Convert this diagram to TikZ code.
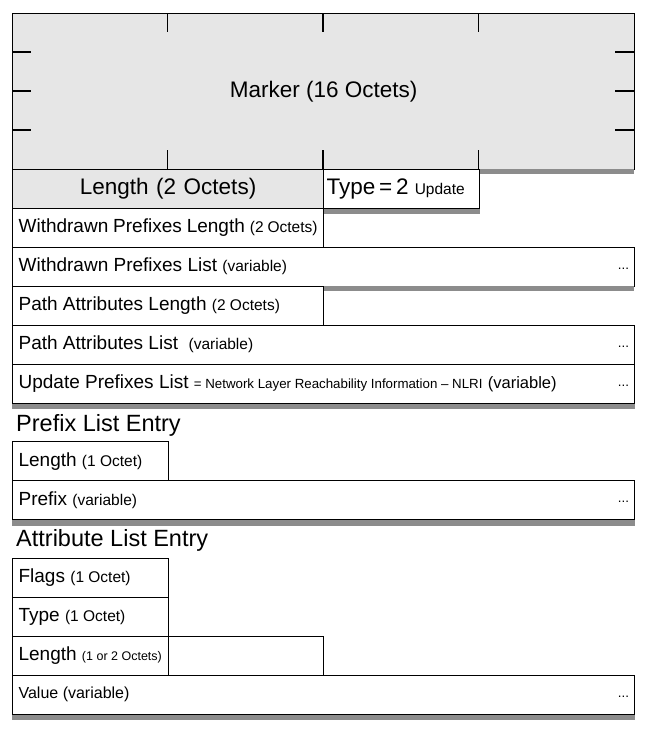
\documentclass[tikz,border=0pt]{standalone}
\usepackage{fontspec}
\setmainfont{Liberation Sans}
\usepackage{tikz}

\definecolor{markergray}{HTML}{E6E6E6}
\definecolor{shadowgray}{HTML}{8C8C8C}

\newcommand{\fbig}{\fontsize{22.5}{26}\selectfont}
\newcommand{\fhead}{\fontsize{23.5}{27}\selectfont}
\newcommand{\fmid}{\fontsize{19}{22}\selectfont}
\newcommand{\fsub}{\fontsize{15.5}{18}\selectfont}
\newcommand{\ftiny}{\fontsize{13.3}{15}\selectfont}

\tikzset{
  field/.style = {draw, line width=1.2pt, anchor=north west, minimum height=39pt,
                  inner ysep=0pt, inner xsep=6pt, align=flush left, font=\fmid},
  quarter/.style = {field, text width=143.5pt},
  half/.style = {field, text width=299pt},
  full/.style = {field, text width=610pt},
  dots/.style = {anchor=east, font=\ftiny, inner sep=0pt, xshift=-6pt, yshift=-2pt},
  title/.style = {anchor=west, font=\fhead, inner sep=0pt},
  shade/.style = {fill=shadowgray}
}

\begin{document}
\begin{tikzpicture}[x=1pt, y=-1pt]
\useasboundingbox (0,0) rectangle (661,729);

% header
\node[draw, line width=1.2pt, fill=markergray, anchor=north west, minimum width=622pt,
      minimum height=155.5pt, font=\fbig] (marker) at (12,13) {Marker (16 Octets)};
\foreach \x in {155.5,311,466.5} {
  \draw[line width=1.2pt] (12+\x,13) -- ++(0,19);
  \draw[line width=1.2pt] (12+\x,168.5) -- ++(0,-19);
}
\foreach \y in {39,78,117} {
  \draw[line width=1.2pt] (12,13+\y) -- ++(19,0);
  \draw[line width=1.2pt] (634,13+\y) -- ++(-19,0);
}
\fill[shade] (478.5,168.5) rectangle (634,174); %marker
\node[half, fill=markergray, align=center, font=\fbig] (len) at (12,168.5) {Length (2 Octets)};
\node[quarter, font=\fbig, inner xsep=3pt, text width=149.5pt] (type) at (323,168.5) {Type\,=\,2 {\fsub Update}};
\fill[shade] (type.south west) rectangle ([yshift=-5.5pt]type.south east); %type

% update body
\node[half] (wdlen) at (12,207.5) {Withdrawn Prefixes Length {\fsub (2 Octets)}};
\node[full] (wdlist) at (12,246.5) {Withdrawn Prefixes List {\fsub (variable)}};
\node[dots] at (wdlist.east) {...};
\fill[shade] (323,285.5) rectangle (634,291); %wdlist
\node[half] (palen) at (12,285.5) {Path Attributes Length {\fsub (2 Octets)}};
\node[full] (palist) at (12,324.5) {Path Attributes List\ \ {\fsub (variable)}};
\node[dots] at (palist.east) {...};
\node[full] (nlri) at (12,363.5) {Update Prefixes List {\ftiny = Network Layer Reachability Information \textendash\ NLRI} {\fontsize{16.5}{18}\selectfont (variable)}};
\node[dots] at (nlri.east) {...};
\fill[shade] (nlri.south west) rectangle ([yshift=-5.5pt]nlri.south east); %nlri

% prefix entry
\node[title] (pfxtitle) at (16,425) {Prefix List Entry};
\node[quarter] (pfxlen) at (12,441) {Length {\fsub (1 Octet)}};
\node[full] (pfx) at (12,480) {Prefix {\fsub (variable)}};
\node[dots] at (pfx.east) {...};
\fill[shade] (pfx.south west) rectangle ([yshift=-5.5pt]pfx.south east); %pfx

% attribute entry
\node[title] (attrtitle) at (16,540) {Attribute List Entry};
\node[quarter] (flags) at (12,557.5) {Flags {\fsub (1 Octet)}};
\node[quarter] (atype) at (12,596.5) {Type {\fsub (1 Octet)}};
\node[quarter] (alen) at (12,635.5) {\mbox{Length {\fontsize{12.5}{15}\selectfont (1 or 2 Octets)}}};
\node[quarter] (alen2) at (167.5,635.5) {};
\node[full, font=\fontsize{16}{18}\selectfont] (value) at (12,674.5) {Value (variable)};
\node[dots] at (value.east) {...};
\fill[shade] (value.south west) rectangle ([yshift=-5.5pt]value.south east); %value
\end{tikzpicture}
\end{document}
